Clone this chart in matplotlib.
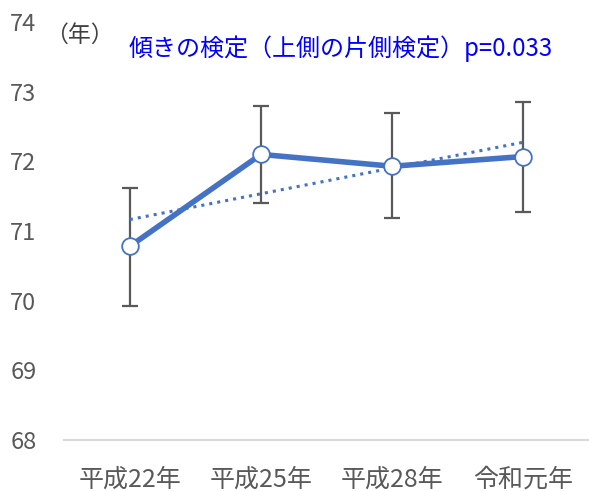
import matplotlib.pyplot as plt
import numpy as np

plt.rcParams['font.family'] = ['Noto Sans CJK JP', 'DejaVu Sans']

# survey years and mean values with error bar limits
years = ['平成22年', '平成25年', '平成28年', '令和元年']
means = [70.78, 72.10, 71.93, 72.07]
upper = [71.62, 72.80, 72.70, 72.85]
lower = [69.93, 71.40, 71.18, 71.27]

x = np.arange(len(years))
err = [np.array(means) - np.array(lower), np.array(upper) - np.array(means)]

fig = plt.figure(figsize=(5.89, 4.91), dpi=100)
ax = fig.add_axes([0.109, 0.104, 0.891, 0.851])

blue = '#4472C4'
gray = '#595959'

# linear trend through the means
slope, icpt = np.polyfit(x, means, 1)
ax.plot(x, slope * x + icpt, ':', color=blue, lw=2.2, zorder=2)

ax.errorbar(x, means, yerr=err, fmt='none', ecolor=gray, elinewidth=1.6,
            capsize=6, capthick=1.6, zorder=1)
ax.plot(x, means, '-o', color=blue, lw=4, markersize=12,
        markerfacecolor='white', markeredgecolor=blue, markeredgewidth=1.3, zorder=3)

ax.set_xlim(-0.5, 3.5)
ax.set_ylim(68, 74)
ax.set_yticks(range(68, 75))
ax.set_xticks(x)
ax.set_xticklabels(years)

for s in ['top', 'right', 'left']:
    ax.spines[s].set_visible(False)
ax.spines['bottom'].set_color('#d9d9d9')
ax.spines['bottom'].set_linewidth(1.5)
ax.tick_params(length=0, colors=gray)
ax.tick_params(axis='y', pad=20, labelsize=17)
ax.tick_params(axis='x', pad=19, labelsize=18)

fig.text(0.076, 0.915, '（年）', fontsize=16.5, color='#404040')
fig.text(0.218, 0.885, '傾きの検定（上側の片側検定）p=0.033', fontsize=17.3, color='#0000FF')

fig.savefig('out.png')
